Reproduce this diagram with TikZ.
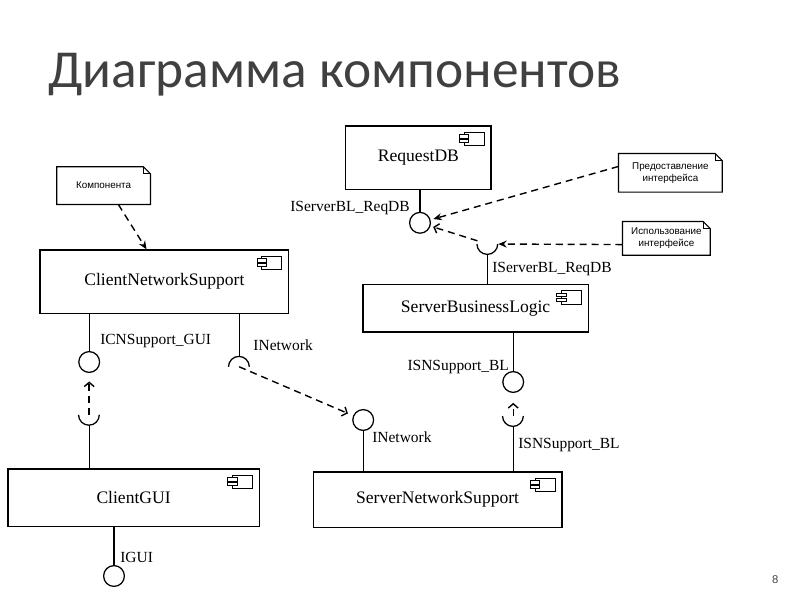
\documentclass[tikz,border=0pt]{standalone}
\usepackage{fontspec}
\usepackage{xcolor}
\usepackage{tikz}
\setmainfont{Liberation Serif}
\newfontfamily\notefont{Liberation Sans}
\newfontfamily\titlefont{Carlito}
\usetikzlibrary{arrows.meta}
\definecolor{titlegray}{HTML}{404040}

\tikzset{
  comp/.style={draw, line width=0.9pt, inner sep=0pt, font=\fontsize{12.5}{15}\selectfont},
  iface/.style={circle, draw, line width=0.9pt, minimum size=0.52cm, inner sep=0pt},
  sock/.style={circle, minimum size=0.52cm, inner sep=0pt},
  ilabel/.style={inner sep=0pt, font=\fontsize{11}{13}\selectfont},
  notebox/.style={inner sep=0pt, align=center, font=\notefont\fontsize{7}{8.5}\selectfont},
  link/.style={line width=0.9pt},
  dep/.style={line width=1pt, dash pattern=on 5pt off 3.5pt, -{Stealth[length=6pt,width=5pt]}},
  usedep/.style={line width=1pt, dash pattern=on 5pt off 3.5pt, -{Straight Barb[length=3pt,width=7pt]}},
  compicon/.pic={
    \draw[line width=0.7pt, fill=white] (-0.5,-0.33) rectangle (0,0);
    \draw[line width=0.7pt, fill=white] (-0.62,-0.07) rectangle (-0.38,-0.15);
    \draw[line width=0.7pt, fill=white] (-0.62,-0.19) rectangle (-0.38,-0.27);
  }
}

\begin{document}
\begin{tikzpicture}
    \useasboundingbox (0,0) rectangle (20,15);

    % Title
    \node[anchor=base west, inner sep=0pt, text=titlegray, font=\titlefont\fontsize{38}{46}\selectfont] (title) at (1.2,12.8) {Диаграмма компонентов};

    % Components
    \node[comp, minimum width=6.22cm, minimum height=1.58cm] (cns) at (4.11,7.96) {ClientNetworkSupport};
    \node[comp, minimum width=6.28cm, minimum height=1.43cm] (cgui) at (3.34,2.56) {ClientGUI};
    \node[comp, minimum width=3.63cm, minimum height=1.58cm] (rdb) at (10.46,11.06) {RequestDB};
    \node[comp, minimum width=5.63cm, minimum height=1.18cm] (sbl) at (11.89,7.29) {ServerBusinessLogic};
    \node[comp, minimum width=6.22cm, minimum height=1.38cm] (sns) at (10.94,2.51) {ServerNetworkSupport};
    \foreach \c in {cns,cgui,rdb,sbl,sns}
        \pic at ([shift={(-0.19,-0.17)}]\c.north east) {compicon};

    % Provided interfaces
    \node[iface] (ireqdb) at (10.5,9.43) {};
    \node[iface] (icns) at (2.23,5.95) {};
    \node[iface] (igui) at (2.85,0.6) {};
    \node[iface] (inet) at (9.08,4.5) {};
    \node[iface] (iisn) at (12.83,5.45) {};

    % Required interfaces (sockets)
    \node[sock] (sreqdb) at (12.19,8.9) {};
    \node[sock] (snet) at (5.98,5.83) {};
    \node[sock] (sgui) at (2.23,4.63) {};
    \node[sock] (sisn) at (12.83,4.6) {};
    \draw[link] (sreqdb.west) arc[start angle=180, end angle=360, radius=0.26cm];
    \draw[link] (snet.west) arc[start angle=180, end angle=0, radius=0.26cm];
    \draw[link] (sgui.west) arc[start angle=180, end angle=360, radius=0.26cm];
    \draw[link] (sisn.west) arc[start angle=180, end angle=360, radius=0.26cm];

    % Wires
    \draw[link] (rdb.south -| ireqdb) -- (ireqdb);
    \draw[link] (sbl.north -| sreqdb) -- (sreqdb.south);
    \draw[link] (sbl.south -| iisn) -- (iisn);
    \draw[link] (sns.north -| sisn) -- (sisn.south);
    \draw[link] (sns.north -| inet) -- (inet);
    \draw[link] (cns.south -| icns) -- (icns);
    \draw[link] (cns.south -| snet) -- (snet.north);
    \draw[link] (cgui.north -| sgui) -- (sgui.south);
    \draw[link] (cgui.south -| igui) -- (igui);

    % Interface labels
    \node[ilabel, anchor=base east] (lreqdba) at (10.25,9.7) {IServerBL\_ReqDB};
    \node[ilabel, anchor=base west] (lreqdbb) at (12.3,8.18) {IServerBL\_ReqDB};
    \node[ilabel, anchor=base west] (lcns) at (2.5,6.38) {ICNSupport\_GUI};
    \node[ilabel, anchor=base west] (lneta) at (6.33,6.25) {INetwork};
    \node[ilabel, anchor=base west] (lnetb) at (9.3,3.93) {INetwork};
    \node[ilabel, anchor=base east] (lisna) at (12.73,5.75) {ISNSupport\_BL};
    \node[ilabel, anchor=base west] (lisnb) at (12.95,3.8) {ISNSupport\_BL};
    \node[ilabel, anchor=base west] (lgui) at (3.0,0.93) {IGUI};

    % Usage links
    \draw[usedep, shorten >=2pt] (sreqdb) -- (ireqdb);
    \draw[usedep, shorten >=4pt] (snet.center) -- (inet);
    \draw[usedep, shorten >=6pt] (sgui.center) -- (icns);
    \draw[usedep, shorten >=7pt] (sisn.center) -- (iisn);

    % Notes
    \node[notebox, minimum width=2.33cm, minimum height=0.93cm] (nkomp) at (2.59,10.36) {Компонента};
    \node[notebox, minimum width=2.58cm, minimum height=0.95cm] (nprov) at (16.76,10.68) {Предоставление\\интерфейса};
    \node[notebox, minimum width=2.18cm, minimum height=0.83cm] (nuse) at (16.66,9.04) {Использование\\интерфейсе};
    \foreach \n in {nkomp,nprov,nuse} {
        \draw[line width=0.8pt] (\n.north west) -- ([xshift=-0.18cm]\n.north east)
            -- ([yshift=-0.18cm]\n.north east) -- (\n.south east) -- (\n.south west) -- cycle;
        \draw[line width=0.6pt] ([xshift=-0.18cm]\n.north east) |- ([yshift=-0.18cm]\n.north east);
    }
    \draw[dep] (nkomp.-52) -- (cns.119);
    \draw[dep, shorten >=2pt] (nprov.173) -- (ireqdb);
    \draw[dep] (nuse.188) -- (sreqdb);

    % Page number
    \node[font=\notefont\fontsize{8}{9}\selectfont, text=titlegray] (pnum) at (19.38,0.5) {8};
\end{tikzpicture}
\end{document}
